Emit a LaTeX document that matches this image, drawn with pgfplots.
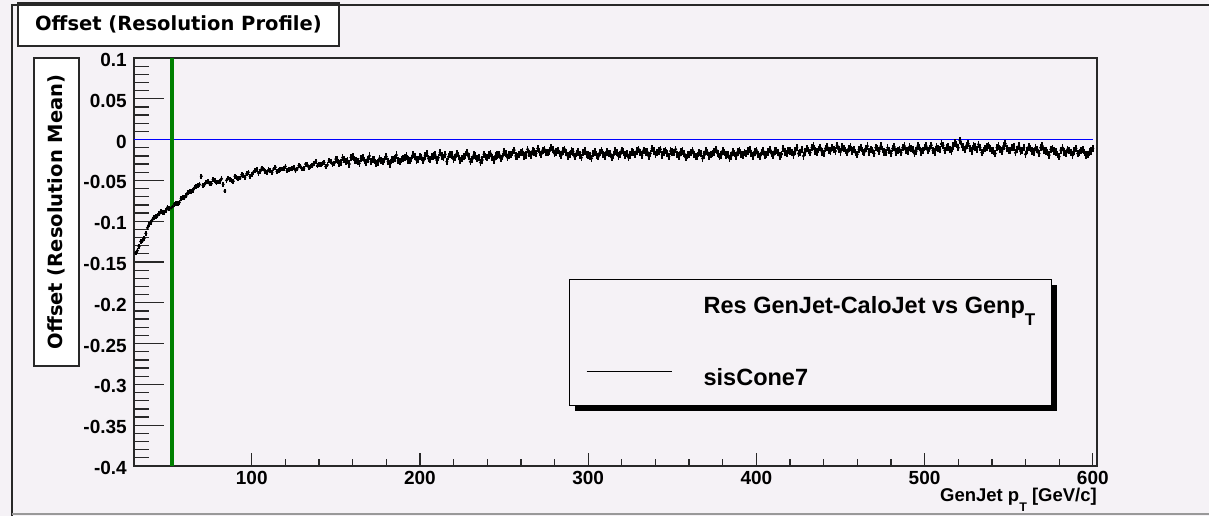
\documentclass[border=0pt]{standalone}
\usepackage{pgfplots}
\pgfplotsset{compat=1.18}
\usepackage{pgfplotstable}
\usepackage{fontspec}
\setmainfont{Liberation Sans}
\newfontfamily\dejavu{DejaVu Sans}
\definecolor{bg}{RGB}{245,242,246}
\definecolor{frm}{RGB}{40,40,40}
\definecolor{grn}{RGB}{0,128,0}
\definecolor{rblue}{RGB}{0,0,255}

% odd bins, low pT
\pgfplotstableread{
x y
31 -0.139
33 -0.131
35 -0.124
37 -0.115
39 -0.104
41 -0.098
43 -0.094
45 -0.091
47 -0.089
49 -0.087
51 -0.084
53 -0.082
55 -0.078
57 -0.077
59 -0.071
61 -0.069
63 -0.064
65 -0.062
67 -0.058
69 -0.055
71 -0.056
73 -0.052
75 -0.054
77 -0.049
79 -0.053
81 -0.051
83 -0.055
85 -0.050
87 -0.049
89 -0.051
91 -0.046
93 -0.047
95 -0.044
97 -0.042
99 -0.045
101 -0.040
103 -0.037
105 -0.039
107 -0.036
109 -0.040
111 -0.038
113 -0.036
115 -0.039
117 -0.037
119 -0.035
121 -0.038
123 -0.036
125 -0.034
127 -0.036
129 -0.033
131 -0.035
133 -0.031
135 -0.033
137 -0.029
139 -0.032
141 -0.030
143 -0.028
145 -0.031
147 -0.027
149 -0.029
}\lowodd

% even bins, low pT
\pgfplotstableread{
x y
32 -0.136
34 -0.125
36 -0.121
38 -0.108
40 -0.102
42 -0.095
44 -0.093
46 -0.088
48 -0.089
50 -0.083
52 -0.084
54 -0.079
56 -0.078
58 -0.072
60 -0.071
62 -0.065
64 -0.064
66 -0.059
68 -0.056
70 -0.045
72 -0.055
74 -0.051
76 -0.054
78 -0.050
80 -0.052
82 -0.048
84 -0.063
86 -0.047
88 -0.050
90 -0.045
92 -0.048
94 -0.043
96 -0.046
98 -0.040
100 -0.043
102 -0.038
104 -0.041
106 -0.035
108 -0.039
110 -0.037
112 -0.040
114 -0.034
116 -0.038
118 -0.036
120 -0.033
122 -0.037
124 -0.035
126 -0.038
128 -0.032
130 -0.036
132 -0.030
134 -0.034
136 -0.032
138 -0.027
140 -0.031
142 -0.029
144 -0.033
146 -0.026
148 -0.030
}\loweven

% odd bins, high pT
\pgfplotstableread{
x y
151 -0.025
153 -0.028
155 -0.024
157 -0.026
159 -0.022
161 -0.025
163 -0.027
165 -0.023
167 -0.026
169 -0.024
171 -0.027
173 -0.025
175 -0.028
177 -0.026
179 -0.024
181 -0.027
183 -0.025
185 -0.023
187 -0.026
189 -0.024
191 -0.022
193 -0.025
195 -0.023
197 -0.021
199 -0.024
201 -0.022
203 -0.020
205 -0.023
207 -0.021
209 -0.019
211 -0.022
213 -0.020
215 -0.018
217 -0.021
219 -0.019
221 -0.022
223 -0.020
225 -0.023
227 -0.019
229 -0.021
231 -0.024
233 -0.020
235 -0.022
237 -0.025
239 -0.021
241 -0.019
243 -0.022
245 -0.020
247 -0.018
249 -0.021
251 -0.017
253 -0.019
255 -0.016
257 -0.020
259 -0.018
261 -0.015
263 -0.019
265 -0.017
267 -0.014
269 -0.017
271 -0.015
273 -0.013
275 -0.016
277 -0.014
279 -0.012
281 -0.015
283 -0.017
285 -0.014
287 -0.016
289 -0.018
291 -0.015
293 -0.017
295 -0.019
297 -0.016
299 -0.018
301 -0.020
303 -0.017
305 -0.019
307 -0.016
309 -0.018
311 -0.015
313 -0.017
315 -0.019
317 -0.016
319 -0.018
321 -0.015
323 -0.017
325 -0.019
327 -0.016
329 -0.014
331 -0.016
333 -0.013
335 -0.015
337 -0.017
339 -0.014
341 -0.016
343 -0.012
345 -0.015
347 -0.017
349 -0.014
351 -0.016
353 -0.018
355 -0.015
357 -0.017
359 -0.019
361 -0.016
363 -0.018
365 -0.020
367 -0.017
369 -0.019
371 -0.016
373 -0.018
375 -0.015
377 -0.017
379 -0.019
381 -0.016
383 -0.018
385 -0.020
387 -0.017
389 -0.015
391 -0.018
393 -0.016
395 -0.014
397 -0.017
399 -0.015
401 -0.018
403 -0.016
405 -0.019
407 -0.015
409 -0.017
411 -0.014
413 -0.016
415 -0.018
417 -0.015
419 -0.013
421 -0.016
423 -0.014
425 -0.017
427 -0.012
429 -0.015
431 -0.013
433 -0.010
435 -0.014
437 -0.012
439 -0.015
441 -0.011
443 -0.013
445 -0.010
447 -0.014
449 -0.012
451 -0.009
453 -0.013
455 -0.011
457 -0.014
459 -0.016
461 -0.012
463 -0.014
465 -0.011
467 -0.015
469 -0.013
471 -0.010
473 -0.014
475 -0.012
477 -0.016
479 -0.013
481 -0.011
483 -0.015
485 -0.012
487 -0.010
489 -0.013
491 -0.009
493 -0.012
495 -0.014
497 -0.010
499 -0.013
501 -0.008
503 -0.011
505 -0.013
507 -0.009
509 -0.012
511 -0.007
513 -0.010
515 -0.012
517 -0.008
519 -0.006
521 -0.001
523 -0.009
525 -0.007
527 -0.011
529 -0.008
531 -0.012
533 -0.010
535 -0.013
537 -0.009
539 -0.011
541 -0.014
543 -0.010
545 -0.012
547 -0.008
549 -0.011
551 -0.013
553 -0.009
555 -0.012
557 -0.014
559 -0.010
561 -0.013
563 -0.011
565 -0.015
567 -0.012
569 -0.010
571 -0.013
573 -0.016
575 -0.012
577 -0.014
579 -0.018
581 -0.013
583 -0.015
585 -0.012
587 -0.016
589 -0.014
591 -0.017
593 -0.013
595 -0.016
597 -0.018
599 -0.014
}\highodd

% even bins, high pT
\pgfplotstableread{
x y
150 -0.024
152 -0.029
154 -0.022
156 -0.027
158 -0.030
160 -0.021
162 -0.026
164 -0.029
166 -0.022
168 -0.028
170 -0.020
172 -0.024
174 -0.029
176 -0.023
178 -0.027
180 -0.021
182 -0.030
184 -0.024
186 -0.019
188 -0.027
190 -0.023
192 -0.020
194 -0.026
196 -0.018
198 -0.025
200 -0.021
202 -0.026
204 -0.017
206 -0.024
208 -0.020
210 -0.025
212 -0.016
214 -0.022
216 -0.027
218 -0.018
220 -0.024
222 -0.017
224 -0.026
226 -0.021
228 -0.016
230 -0.027
232 -0.019
234 -0.023
236 -0.028
238 -0.018
240 -0.022
242 -0.017
244 -0.025
246 -0.019
248 -0.023
250 -0.015
252 -0.022
254 -0.018
256 -0.013
258 -0.021
260 -0.016
262 -0.020
264 -0.012
266 -0.019
268 -0.015
270 -0.011
272 -0.018
274 -0.012
276 -0.016
278 -0.010
280 -0.017
282 -0.013
284 -0.019
286 -0.012
288 -0.020
290 -0.014
292 -0.021
294 -0.015
296 -0.022
298 -0.014
300 -0.019
302 -0.023
304 -0.015
306 -0.021
308 -0.013
310 -0.020
312 -0.017
314 -0.022
316 -0.014
318 -0.020
320 -0.013
322 -0.019
324 -0.022
326 -0.015
328 -0.018
330 -0.012
332 -0.019
334 -0.015
336 -0.020
338 -0.011
340 -0.018
342 -0.014
344 -0.019
346 -0.013
348 -0.021
350 -0.015
352 -0.012
354 -0.020
356 -0.014
358 -0.022
360 -0.018
362 -0.013
364 -0.021
366 -0.016
368 -0.023
370 -0.014
372 -0.020
374 -0.017
376 -0.012
378 -0.021
380 -0.014
382 -0.019
384 -0.023
386 -0.015
388 -0.020
390 -0.013
392 -0.019
394 -0.017
396 -0.012
398 -0.020
400 -0.013
402 -0.021
404 -0.014
406 -0.018
408 -0.012
410 -0.019
412 -0.013
414 -0.020
416 -0.011
418 -0.017
420 -0.014
422 -0.019
424 -0.010
426 -0.016
428 -0.020
430 -0.011
432 -0.016
434 -0.008
436 -0.015
438 -0.010
440 -0.017
442 -0.009
444 -0.014
446 -0.012
448 -0.007
450 -0.015
452 -0.011
454 -0.016
456 -0.009
458 -0.012
460 -0.018
462 -0.010
464 -0.016
466 -0.008
468 -0.012
470 -0.017
472 -0.011
474 -0.008
476 -0.015
478 -0.010
480 -0.017
482 -0.009
484 -0.013
486 -0.016
488 -0.008
490 -0.014
492 -0.011
494 -0.017
496 -0.008
498 -0.015
500 -0.010
502 -0.013
504 -0.007
506 -0.015
508 -0.011
510 -0.005
512 -0.013
514 -0.009
516 -0.014
518 -0.004
520 -0.010
522 -0.006
524 -0.012
526 -0.005
528 -0.014
530 -0.009
532 -0.006
534 -0.016
536 -0.011
538 -0.007
540 -0.013
542 -0.017
544 -0.008
546 -0.014
548 -0.005
550 -0.013
552 -0.010
554 -0.016
556 -0.008
558 -0.013
560 -0.018
562 -0.009
564 -0.014
566 -0.010
568 -0.017
570 -0.008
572 -0.014
574 -0.019
576 -0.011
578 -0.015
580 -0.021
582 -0.010
584 -0.017
586 -0.013
588 -0.019
590 -0.011
592 -0.016
594 -0.012
596 -0.019
598 -0.015
600 -0.011
}\higheven

\begin{document}
\begin{tikzpicture}
\fill[bg] (-134pt,-50pt) rectangle (1075pt,466pt);
% legend shadow
\fill[black] (441pt,55pt) rectangle (923pt,181pt);
\begin{axis}[
  scale only axis,
  width=963pt, height=408pt,
  at={(0pt,0pt)}, anchor=south west,
  xmin=30, xmax=602.5, ymin=-0.4, ymax=0.1,
  axis line style={line width=1.5pt, frm},
  tick align=inside,
  xtick pos=bottom, ytick pos=left,
  xtick={100,200,300,400,500,600},
  xticklabels={100,200,300,400,500,600},
  minor x tick num=4,
  ytick={-0.4,-0.35,-0.3,-0.25,-0.2,-0.15,-0.1,-0.05,0,0.05,0.1},
  yticklabels={-0.4,-0.35,-0.3,-0.25,-0.2,-0.15,-0.1,-0.05,0,0.05,0.1},
  minor y tick num=4,
  xtick style={line width=1.3pt, frm, /pgfplots/major tick length=13pt},
  ytick style={line width=1.3pt, frm, /pgfplots/major tick length=30pt},
  minor x tick style={line width=1.3pt, frm, /pgfplots/minor tick length=7pt},
  minor y tick style={line width=1.3pt, frm, /pgfplots/minor tick length=15pt},
  ticklabel style={font=\fontsize{19}{19}\selectfont\bfseries, inner sep=0pt},
  xticklabel style={anchor=base, yshift=-19pt},
  yticklabel style={anchor=east, xshift=-7pt, yshift=-2pt},
  xlabel={GenJet p\raisebox{-10pt}{\fontsize{12.5}{12.5}\selectfont T} [GeV/c]},
  xlabel style={at={(rel axis cs:1,0)}, anchor=base east, yshift=-35pt, inner sep=0pt,
    font=\fontsize{18.5}{18.5}\selectfont\bfseries},
  ylabel={Offset (Resolution Mean)},
  ylabel style={at={(rel axis cs:-0.0805,0.6225)}, anchor=center, rotate=0,
    draw=frm, line width=2pt, fill=white, minimum width=308pt, minimum height=45pt,
    inner sep=0pt, font=\dejavu\fontsize{19.5}{19.5}\selectfont\bfseries},
  title={Offset (Resolution Profile)},
  title style={at={(rel axis cs:0.0462,1.0674)}, anchor=center,
    draw=frm, line width=2pt, fill=white, minimum width=321pt, minimum height=43pt,
    inner sep=0pt, font=\dejavu\fontsize{19.5}{19.5}\selectfont\bfseries},
  legend cell align=left,
  legend style={at={(rel axis cs:0.4517,0.4583)}, anchor=north west,
    draw=black, line width=1.3pt, fill=bg,
    inner xsep=5pt, inner ysep=0pt, row sep=0pt, column sep=0pt,
    nodes={inner sep=0pt}, font=\fontsize{23.5}{23.5}\selectfont\bfseries},
]
\addplot[rblue, line width=1.6pt, forget plot] coordinates {(30,0) (600,0)};
\addplot[black, only marks, mark=*, mark size=1.3pt, forget plot,
  error bars/.cd, x dir=both, x fixed=0.55, y dir=both, y fixed=0.003,
  error mark=none, error bar style={line width=1.7pt, black}] table[x=x, y=y] {\lowodd};
\addplot[black, only marks, mark=*, mark size=1.3pt, forget plot,
  error bars/.cd, x dir=both, x fixed=0.55, y dir=both, y fixed=0.003,
  error mark=none, error bar style={line width=1.7pt, black}] table[x=x, y=y] {\loweven};
\addplot[black, only marks, mark=*, mark size=1.3pt, forget plot,
  error bars/.cd, x dir=both, x fixed=0.55, y dir=both, y fixed=0.0045,
  error mark=none, error bar style={line width=1.7pt, black}] table[x=x, y=y] {\highodd};
\addplot[black, only marks, mark=*, mark size=1.3pt, forget plot,
  error bars/.cd, x dir=both, x fixed=0.55, y dir=both, y fixed=0.0045,
  error mark=none, error bar style={line width=1.7pt, black}] table[x=x, y=y] {\higheven};
\addplot[grn, line width=4pt, forget plot] coordinates {(52.5,-0.4) (52.5,0.1)};
\addlegendimage{empty legend}
\addlegendentry{\rule{0pt}{34pt}\hspace*{129pt}Res GenJet-CaloJet vs Genp\raisebox{-12pt}{\fontsize{17}{17}\selectfont T}\hspace*{11pt}}
\addlegendimage{empty legend}
\addlegendentry{\rule{0pt}{89pt}\hspace*{12pt}\rule[32pt]{85pt}{1.2pt}\hspace*{32pt}\raisebox{19pt}{sisCone7}}
\end{axis}
\draw[frm, line width=2pt] (-123pt,461pt) -- (1075pt,461pt);
\draw[frm, line width=2.5pt] (-122pt,-50pt) -- (-122pt,462pt);
\draw[black!40, line width=2pt] (-122pt,-48.5pt) -- (1075pt,-48.5pt);
\pgfresetboundingbox
\path[use as bounding box] (-134pt,-50pt) rectangle (1075pt,466pt);
\end{tikzpicture}
\end{document}
